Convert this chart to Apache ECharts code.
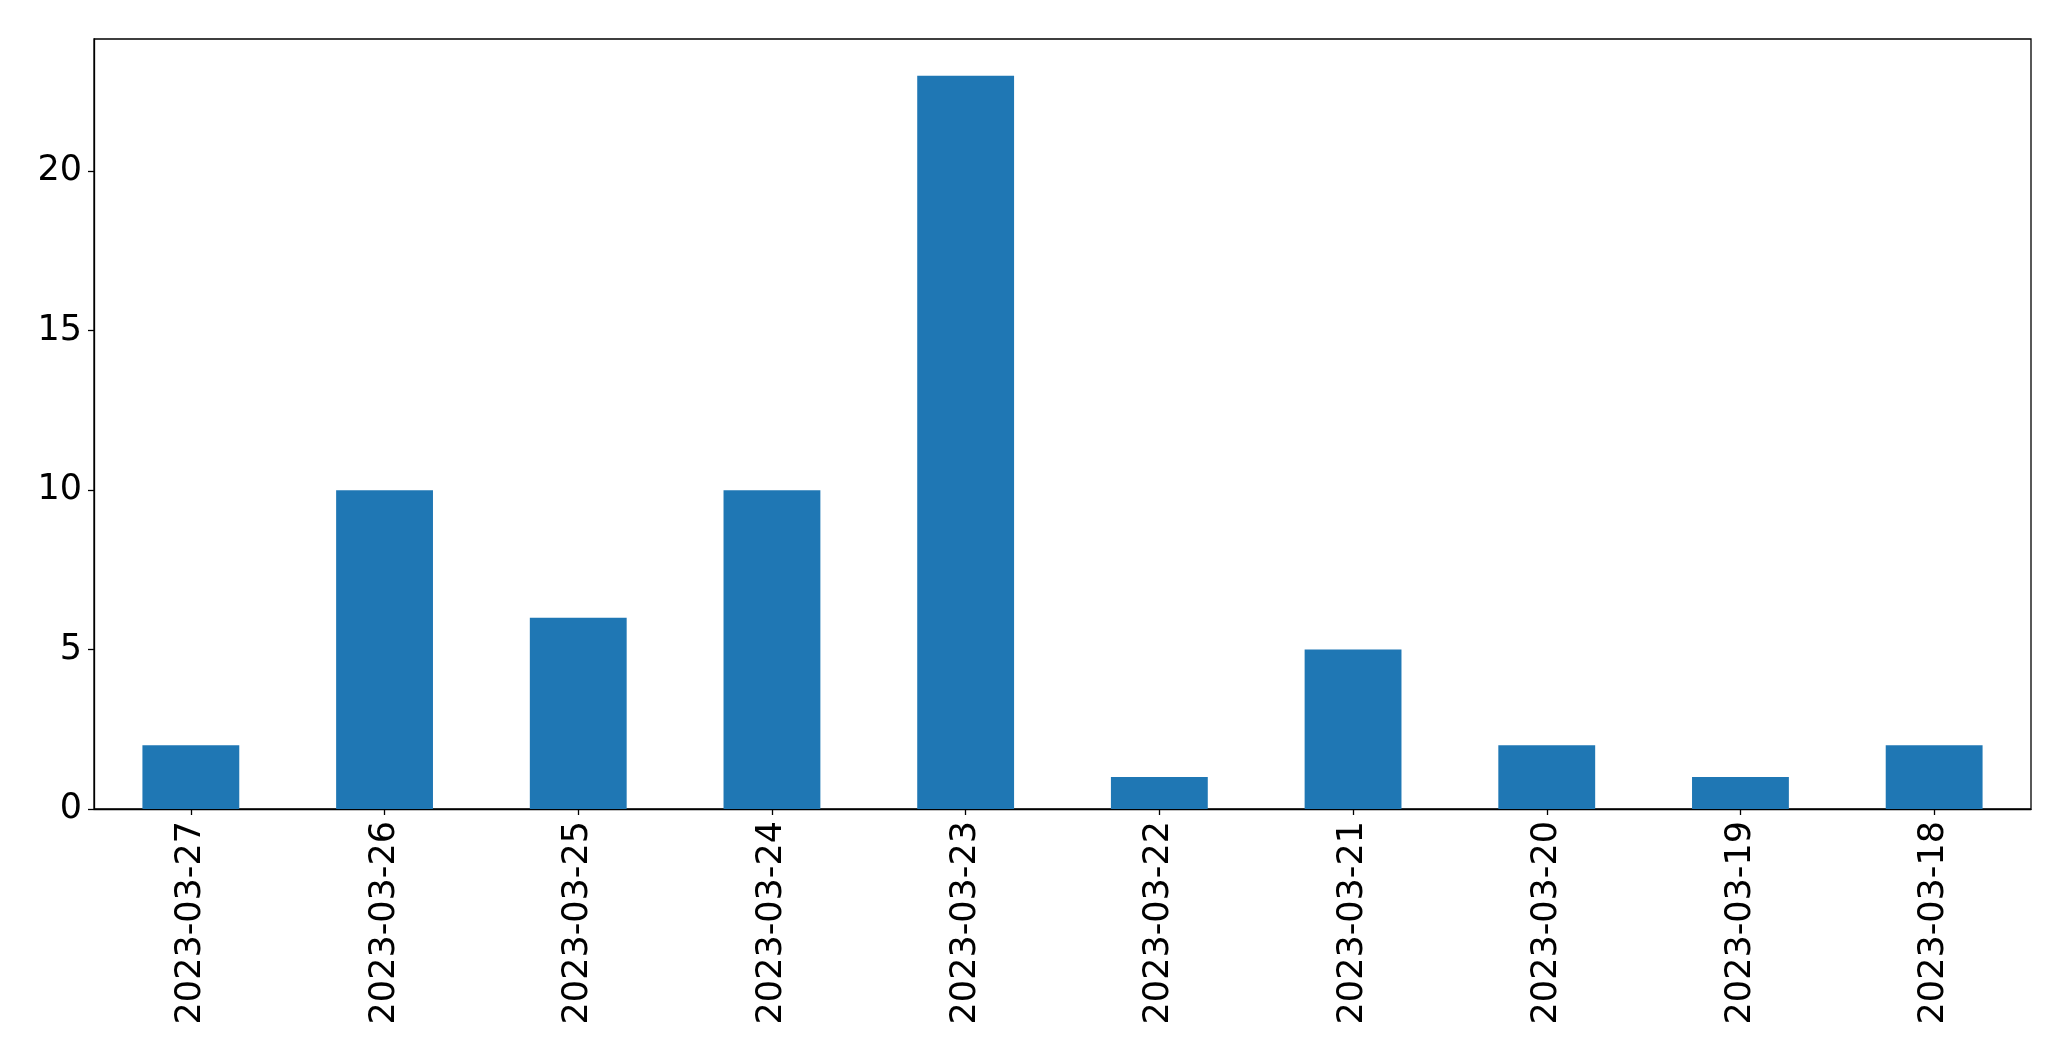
<!DOCTYPE html>
<html>
<head>
<meta charset="utf-8">
<script src="https://cdn.jsdelivr.net/npm/echarts@6/dist/echarts.min.js"></script>
<style>
html,body{margin:0;padding:0;background:#fff;}
#chart{width:2071px;height:1061px;}
</style>
</head>
<body>
<div id="chart"></div>
<script>
const categories = ["2023-03-27","2023-03-26","2023-03-25","2023-03-24","2023-03-23","2023-03-22","2023-03-21","2023-03-20","2023-03-19","2023-03-18"];
const values = [2, 10, 6, 10, 23, 1, 5, 2, 1, 2];
const yTicks = [0, 5, 10, 15, 20];

const chart = echarts.init(document.getElementById('chart'), null, {renderer: 'canvas'});
const font = 'DejaVu Sans';
chart.setOption({
  animation: false,
  backgroundColor: '#ffffff',
  grid: {
    left: 94, top: 39, width: 1937, height: 770,
    show: true, borderColor: '#000', borderWidth: 1.3, backgroundColor: 'transparent'
  },
  xAxis: {
    type: 'category',
    data: categories,
    boundaryGap: true,
    axisLine: {show: true, lineStyle: {color: '#000', width: 1.3}},
    axisTick: {show: true, alignWithLabel: true, length: 6, lineStyle: {color: '#000', width: 1.3}},
    axisLabel: {rotate: 90, margin: 12, color: '#000', fontFamily: font, fontSize: 35, interval: 0},
    splitLine: {show: false}
  },
  yAxis: {
    type: 'value',
    min: 0,
    max: 24.15,
    interval: 5,
    axisLine: {show: true, lineStyle: {color: '#000', width: 1.3}},
    axisTick: {show: true, length: 6, lineStyle: {color: '#000', width: 1.3}},
    axisLabel: {
      color: '#000', fontFamily: font, fontSize: 35, margin: 12,
      showMaxLabel: false,
      formatter: v => yTicks.includes(v) ? String(v) : ''
    },
    splitLine: {show: false}
  },
  series: [{
    type: 'bar',
    data: values,
    barWidth: '50%',
    itemStyle: {color: '#1f77b4'}
  }]
});
</script>
</body>
</html>
